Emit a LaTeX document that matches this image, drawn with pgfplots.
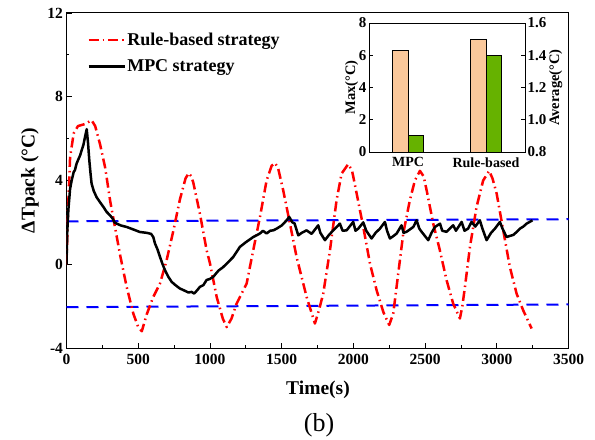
\documentclass[border=0pt]{standalone}
\usepackage{fontspec}
\setmainfont{Liberation Serif}
\usepackage{pgfplots}
\pgfplotsset{compat=1.18}
\definecolor{peach}{RGB}{250,200,155}
\definecolor{lgreen}{RGB}{102,178,0}
\begin{document}
\begin{tikzpicture}
\begin{axis}[
  name=main, at={(0,0)}, anchor=south west,
  scale only axis, width=502bp, height=335bp,
  xmin=0, xmax=3500, ymin=-4, ymax=12,
  xtick={0,500,...,3500}, ytick={-4,0,4,8,12},
  minor x tick num=1, minor y tick num=1,
  tick align=inside, xtick pos=bottom, ytick pos=left,
  major tick length=5bp, minor tick length=3bp,
  tick style={black, line width=0.8bp},
  axis line style={line width=1bp},
  /pgf/number format/assume math mode=true,
  /pgf/number format/1000 sep={},
  ticklabel style={font=\fontsize{15.5bp}{18bp}\selectfont\bfseries},
  xticklabel style={yshift=-3bp},
  every axis x label/.style={at={(axis description cs:0.501,-0.125)}, anchor=center},
  every axis y label/.style={at={(axis description cs:-0.073,0.5)}, rotate=90, anchor=center},
  label style={font=\fontsize{19.5bp}{22bp}\selectfont\bfseries},
  xlabel={Time(s)}, ylabel={ΔTpack (°C)},
  legend style={at={(0.035,0.952)}, anchor=north west, draw=none, fill=none,
    font=\fontsize{18bp}{20bp}\selectfont\bfseries, row sep=10bp,
    nodes={inner sep=1.5bp}},
  legend cell align=left,
  legend image code/.code={\draw[#1] (0bp,0bp) -- (36bp,0bp);},
]
\addplot[blue, line width=2bp, dash pattern=on 12bp off 8bp, forget plot] coordinates {(0,2.05) (3500,2.15)};
\addplot[blue, line width=2bp, dash pattern=on 12bp off 8bp, forget plot] coordinates {(0,-2.05) (3500,-1.92)};
\addplot[red, line width=2.5bp, dash pattern=on 10bp off 4bp on 1.5bp off 4bp, line join=round] coordinates {
(0,0) (10,2.5) (25,5.1) (50,6.25) (80,6.6) (130,6.7) (175,6.88) (200,6.6) (235,5.7) (270,4.6) (305,3.0) (340,1.7) (375,0.4) (420,-1.1) (466,-2.36) (500,-3.0) (525,-3.2) (559,-2.4) (605,-1.56) (652,-0.92) (698,0.19) (745,1.6) (791,3.1) (830,4.1) (852,4.35) (870,4.2) (884,3.9) (930,2.42) (977,0.67) (1000,0.05) (1047,-1.56) (1090,-2.6) (1117,-3.0) (1150,-2.6) (1186,-1.88) (1256,-0.92) (1302,0.67) (1349,2.26) (1395,4.0) (1430,4.7) (1453,4.84) (1475,4.6) (1511,3.53) (1558,1.94) (1604,0.35) (1674,-1.56) (1732,-2.83) (1760,-2.2) (1790,-1.4) (1837,0.67) (1883,3.06) (1918,4.33) (1964,4.78) (1990,4.5) (2023,3.38) (2069,1.78) (2116,0.03) (2162,-1.24) (2210,-2.3) (2250,-2.9) (2278,-2.36) (2313,-0.44) (2348,1.47) (2394,3.06) (2429,4.0) (2464,4.46) (2490,4.2) (2511,3.53) (2557,1.94) (2603,0.67) (2650,-0.76) (2696,-1.88) (2743,-2.59) (2760,-2.0) (2778,-1.08) (2813,0.83) (2859,2.74) (2905,4.0) (2947,4.46) (2970,4.1) (2999,3.38) (3045,1.62) (3091,-0.13) (3138,-1.4) (3184,-2.2) (3243,-3.07)};
\addlegendentry{Rule-based strategy}
\addplot[black, line width=2.5bp, line join=round] coordinates {
(0,0) (5,1.5) (13,2.6) (25,3.6) (36,4.0) (50,4.4) (59,4.5) (70,4.8) (82,5.0) (95,5.2) (106,5.45) (118,5.7) (129,6.08) (141,6.45) (150,5.8) (159,4.97) (168,4.3) (175,3.85) (190,3.5) (210,3.2) (230,3.0) (257,2.74) (280,2.5) (303,2.34) (320,2.2) (335,2.0) (350,1.94) (380,1.85) (420,1.78) (470,1.65) (512,1.54) (560,1.5) (590,1.45) (605,1.3) (617,0.99) (635,0.7) (652,0.35) (670,0.0) (687,-0.29) (710,-0.6) (733,-0.84) (760,-1.0) (791,-1.16) (820,-1.25) (850,-1.35) (873,-1.32) (890,-1.4) (910,-1.25) (930,-1.08) (954,-1.0) (977,-0.75) (1000,-0.7) (1023,-0.6) (1060,-0.3) (1090,-0.15) (1117,0.03) (1163,0.35) (1209,0.83) (1250,1.05) (1302,1.3) (1349,1.47) (1370,1.6) (1395,1.47) (1420,1.6) (1442,1.62) (1465,1.7) (1500,1.85) (1535,2.1) (1553,2.26) (1575,2.0) (1590,1.95) (1616,1.38) (1640,1.5) (1674,1.62) (1709,1.45) (1755,1.86) (1770,1.5) (1802,1.15) (1830,1.4) (1860,1.62) (1906,1.94) (1925,1.6) (1953,1.62) (1999,2.02) (2015,1.6) (2034,1.7) (2069,2.0) (2090,1.6) (2127,1.23) (2155,1.5) (2185,1.7) (2220,2.02) (2235,1.6) (2255,1.23) (2280,1.35) (2302,1.47) (2336,1.86) (2350,1.5) (2371,1.55) (2418,1.78) (2441,2.1) (2460,1.7) (2476,1.55) (2522,1.15) (2545,1.5) (2569,1.78) (2604,1.94) (2620,1.6) (2650,1.55) (2696,1.86) (2715,1.6) (2755,2.02) (2775,1.6) (2800,1.7) (2824,2.02) (2850,1.8) (2882,2.1) (2900,1.7) (2929,1.15) (2960,1.5) (2987,1.7) (3022,2.02) (3040,1.7) (3068,1.3) (3090,1.35) (3115,1.4) (3140,1.55) (3161,1.7) (3185,1.8) (3208,1.94) (3249,2.1)};
\addlegendentry{MPC strategy}
\end{axis}
% inset: Max on left axis
\begin{axis}[
  at={(302.5bp,196bp)}, anchor=south west,
  scale only axis, width=156bp, height=129bp,
  axis background/.style={fill=white},
  xmin=-0.5, xmax=1.5, ymin=0, ymax=8,
  xtick={0,1}, xticklabels={MPC,Rule-based},
  xtick style={draw=none},
  ytick={0,2,4,6,8}, ytick pos=left, tick align=inside,
  major tick length=4bp,
  tick style={black, line width=0.8bp},
  axis line style={line width=0.8bp},
  /pgf/number format/assume math mode=true,
  ticklabel style={font=\fontsize{15bp}{17bp}\selectfont\bfseries},
  yticklabel style={xshift=1bp},
  xticklabel style={font=\fontsize{14bp}{16bp}\selectfont\bfseries, yshift=-2bp},
  ylabel={Max(°C)},
  ylabel style={font=\fontsize{14.5bp}{17bp}\selectfont\bfseries, yshift=-6bp},
]
\addplot[ybar, bar width=15.5bp, bar shift=-7.75bp, fill=peach, draw=black, line width=0.8bp] coordinates {(0,6.3) (1,7.0)};
\end{axis}
% inset: Average on right axis
\begin{axis}[
  at={(302.5bp,196bp)}, anchor=south west,
  scale only axis, width=156bp, height=129bp,
  xmin=-0.5, xmax=1.5, ymin=0.8, ymax=1.6,
  axis y line*=right, axis x line=none,
  xtick=\empty,
  ytick={0.8,1.0,1.2,1.4,1.6}, tick align=inside,
  major tick length=4bp,
  tick style={black, line width=0.8bp},
  axis line style={line width=0.8bp, -},
  /pgf/number format/assume math mode=true,
  /pgf/number format/fixed, /pgf/number format/fixed zerofill,
  /pgf/number format/precision=1,
  ticklabel style={font=\fontsize{15bp}{17bp}\selectfont\bfseries},
  yticklabel style={xshift=-1bp},
  ylabel={Average(°C)}, ylabel near ticks,
  ylabel style={font=\fontsize{14.5bp}{17bp}\selectfont\bfseries, yshift=4bp},
]
\addplot[ybar, bar width=15.5bp, bar shift=7.75bp, fill=lgreen, draw=black, line width=0.8bp] coordinates {(0,0.9) (1,1.4)};
\end{axis}
\node[font=\fontsize{26bp}{30bp}\selectfont, anchor=center] at (252.5bp,-77bp) {(b)};
\pgfresetboundingbox
\path[use as bounding box] (-66.5bp,-92bp) rectangle (528.5bp,348bp);
\end{tikzpicture}
\end{document}
